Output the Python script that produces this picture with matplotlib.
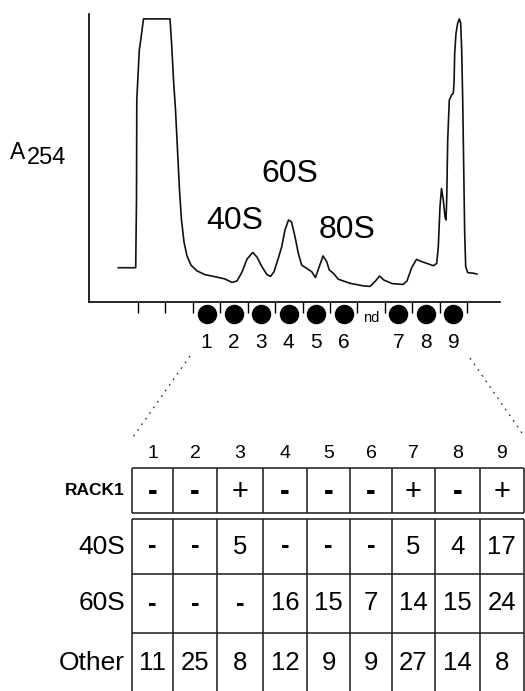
import matplotlib
matplotlib.use("Agg")
import matplotlib.pyplot as plt

plt.rcParams["font.family"] = ["Liberation Sans", "DejaVu Sans"]

# ---- sucrose-gradient A254 profile (x: gradient position in fraction slots, y: relative A254)
TRACE_X = [-0.718, -0.084, -0.055, -0.044, 0.047, 0.091, 0.201, 1.167, 1.229, 1.295,
           1.368, 1.441, 1.513, 1.586, 1.678, 1.787, 1.933, 2.152, 2.443, 2.845,
           3.173, 3.428, 3.611, 3.793, 3.975, 4.183, 4.340, 4.522, 4.705, 4.832,
           4.960, 5.117, 5.241, 5.361, 5.489, 5.598, 5.726, 5.846, 5.970, 6.152,
           6.335, 6.473, 6.612, 6.747, 6.882, 6.977, 7.123, 7.305, 7.732, 8.217,
           8.461, 8.662, 8.807, 8.972, 9.263, 9.665, 9.810, 9.975, 10.157, 10.321,
           10.540, 10.770, 10.893, 10.952, 11.014, 11.069, 11.134, 11.196, 11.233, 11.258,
           11.295, 11.353, 11.440, 11.499, 11.525, 11.550, 11.597, 11.659, 11.718, 11.769,
           11.805, 11.842, 11.878, 11.914, 11.951, 12.024, 12.228, 12.360]
TRACE_Y = [0.119, 0.119, 0.354, 0.701, 0.875, 0.903, 0.983, 0.983, 0.892, 0.771,
           0.667, 0.528, 0.389, 0.285, 0.208, 0.160, 0.128, 0.108, 0.095, 0.087,
           0.080, 0.068, 0.073, 0.104, 0.149, 0.172, 0.156, 0.122, 0.095, 0.089,
           0.105, 0.152, 0.192, 0.250, 0.285, 0.278, 0.227, 0.169, 0.128, 0.117,
           0.105, 0.085, 0.123, 0.160, 0.140, 0.111, 0.100, 0.079, 0.065, 0.056,
           0.054, 0.073, 0.090, 0.076, 0.064, 0.061, 0.073, 0.118, 0.148, 0.141,
           0.134, 0.126, 0.134, 0.192, 0.331, 0.394, 0.354, 0.296, 0.285, 0.354,
           0.563, 0.701, 0.719, 0.725, 0.759, 0.864, 0.933, 0.968, 0.983, 0.968,
           0.875, 0.701, 0.470, 0.239, 0.123, 0.102, 0.100, 0.097]

N_SLOTS = 12
COLLECTED_SLOTS = [2, 3, 4, 5, 6, 7, 8, 9, 10, 11]
COLLECTED_LABELS = ["1", "2", "3", "4", "5", "6", "nd", "7", "8", "9"]

PEAK_NAMES = ["40S", "60S", "80S"]
PEAK_TEXT_X = [3.54, 5.54, 7.62]
PEAK_TEXT_Y = [0.281, 0.444, 0.250]

# ---- fraction composition table
TABLE_COLS = ["1", "2", "3", "4", "5", "6", "7", "8", "9"]
RACK1_ROW = ["-", "-", "+", "-", "-", "-", "+", "-", "+"]
ROW_NAMES = ["40S", "60S", "Other"]
ROW_40S = ["-", "-", "5", "-", "-", "-", "5", "4", "17"]
ROW_60S = ["-", "-", "-", "16", "15", "7", "14", "15", "24"]
ROW_OTHER = ["11", "25", "8", "12", "9", "9", "27", "14", "8"]

W, H = 525, 691
fig = plt.figure(figsize=(W / 100, H / 100), dpi=100)

# overlay in pixel units for the table and free labels
ov = fig.add_axes([0, 0, 1, 1])
ov.set_xlim(0, W); ov.set_ylim(H, 0); ov.axis("off")

# ---- trace panel -----------------------------------------------------------
x0, x1, ybot, ytop = 89, 500, 302, 14
tick0, tick_step = 138, 27.42
ax = fig.add_axes([x0 / W, (H - ybot) / H, (x1 - x0) / W, (ybot - ytop) / H])
ax.patch.set_alpha(0)
ax.set_xlim((x0 - tick0) / tick_step, (x1 - tick0) / tick_step)
ax.set_ylim(0, 1)
ax.plot(TRACE_X, TRACE_Y, color="#111111", lw=1.2, solid_joinstyle="round")
for s in ["top", "right"]:
    ax.spines[s].set_visible(False)
for s in ["left", "bottom"]:
    ax.spines[s].set_linewidth(1.2)
ax.set_xticks(range(N_SLOTS + 1))
ax.set_yticks([])
ax.tick_params(axis="x", direction="out", length=7.9, width=1.0, labelbottom=False)

for slot, lab in zip(COLLECTED_SLOTS, COLLECTED_LABELS):
    if lab == "nd":
        ax.text(slot + 0.5, -0.056, "nd", ha="center", va="center", fontsize=10.5)
        continue
    ax.plot(slot + 0.5, -0.042, "o", ms=13, color="black", clip_on=False)
    ax.text(slot + 0.5, -0.139, lab, ha="center", va="center", fontsize=15)

for name, tx, ty in zip(PEAK_NAMES, PEAK_TEXT_X, PEAK_TEXT_Y):
    ax.text(tx, ty, name, ha="center", va="center", fontsize=23)

ov.text(10, 159, "A", ha="left", va="baseline", fontsize=16.5)
ov.text(27, 164, "254", ha="left", va="baseline", fontsize=17)

# ---- dotted zoom lines from the fractions to the table ---------------------
ov.plot([190, 133], [356, 437], color="#333333", lw=0.9, ls=(0, (1.5, 4)))
ov.plot([470, 524], [358, 436], color="#333333", lw=0.9, ls=(0, (1.5, 4)))

# ---- table ----------------------------------------------------------------
col_edges = [132, 173, 217, 263, 307, 350, 392, 435, 480, 523.5]
centers = [(a + b) / 2 for a, b in zip(col_edges[:-1], col_edges[1:])]
lw_t = 1.1
tc = "#1a1a1a"

for cx, lab in zip(centers, TABLE_COLS):
    ov.text(cx, 453, lab, ha="center", va="center", fontsize=14)

# RACK1 box
r_top, r_bot = 468, 513
ov.hlines([r_top, r_bot], col_edges[0], col_edges[-1], color=tc, lw=lw_t)
ov.vlines(col_edges, r_top, r_bot, color=tc, lw=lw_t)
ov.text(125, (r_top + r_bot) / 2, "RACK1", ha="right", va="center",
        fontsize=12.5, fontweight="bold")
for cx, v in zip(centers, RACK1_ROW):
    ov.text(cx, (r_top + r_bot) / 2 + 1, v, ha="center", va="center",
            fontsize=21, fontweight="bold" if v == "-" else "normal")

# counts table
row_edges = [519, 574, 633, 693]
ov.hlines(row_edges[:-1], col_edges[0], col_edges[-1], color=tc, lw=lw_t)
ov.vlines(col_edges, row_edges[0], H, color=tc, lw=lw_t)
for name, vals, a, b in zip(ROW_NAMES, [ROW_40S, ROW_60S, ROW_OTHER],
                            row_edges[:-1], row_edges[1:]):
    cy = (a + b) / 2
    ov.text(125, cy, name, ha="right", va="center", fontsize=19)
    for cx, v in zip(centers, vals):
        ov.text(cx, cy, v, ha="center", va="center", fontsize=18.5,
                fontweight="bold" if v == "-" else "normal")

fig.savefig("out.png", dpi=100)
